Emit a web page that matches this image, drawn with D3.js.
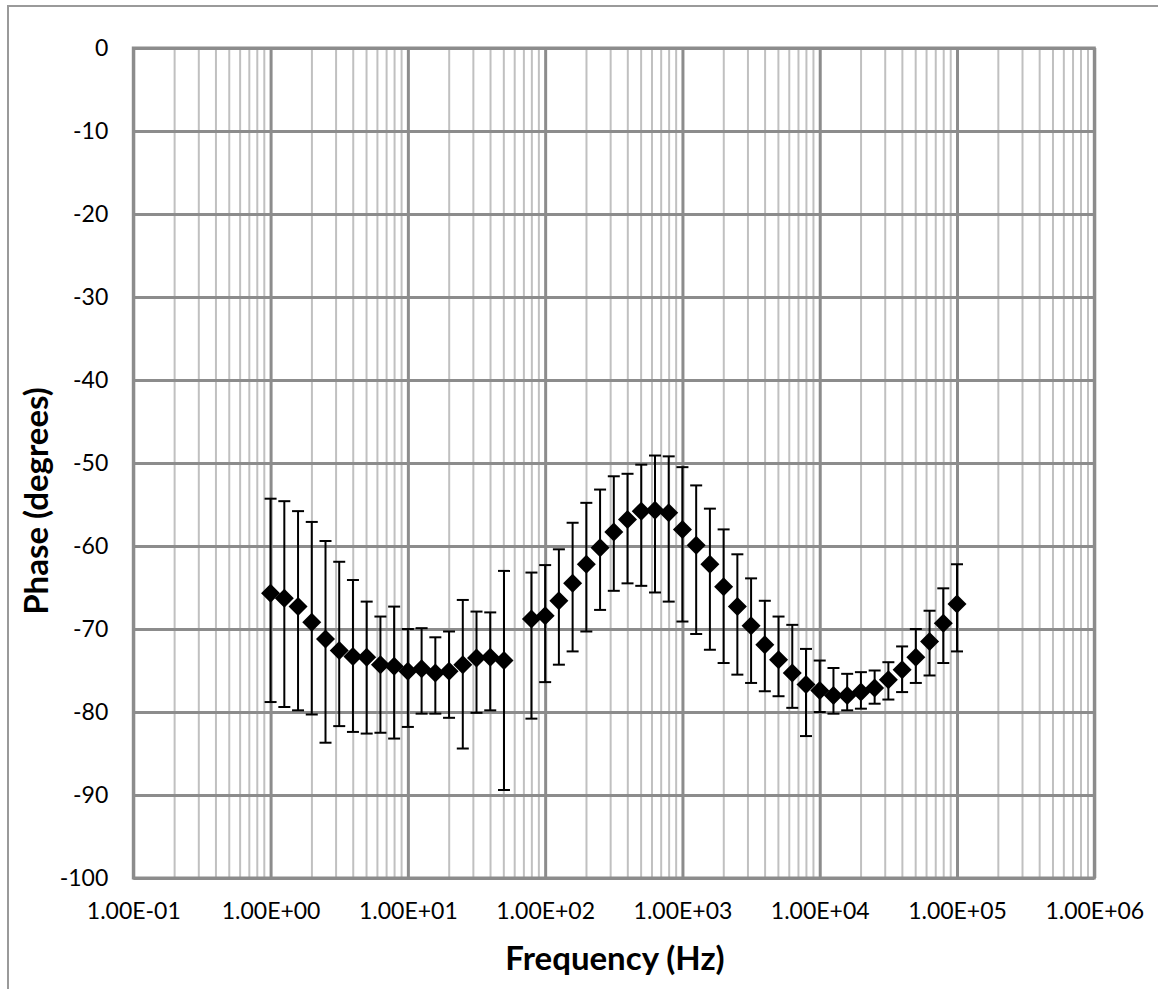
<!DOCTYPE html>
<html>
<head>
<meta charset="utf-8">
<script src="https://cdn.jsdelivr.net/npm/d3@7"></script>
<style>
  html, body { margin: 0; padding: 0; background: #fff; }
  svg { display: block; font-family: Lato, "Open Sans", sans-serif; }
</style>
</head>
<body>
<svg id="chart" width="1158" height="989"></svg>
<script>
// ---- data ----
const frequencies = [1, 1.259, 1.585, 1.995, 2.512, 3.162, 3.981, 5.012, 6.310, 7.943,
  10, 12.59, 15.85, 19.95, 25.12, 31.62, 39.81, 50.12,
  79.43, 100, 125.9, 158.5, 199.5, 251.2, 316.2, 398.1, 501.2, 631.0, 794.3,
  1000, 1259, 1585, 1995, 2512, 3162, 3981, 5012, 6310, 7943,
  10000, 12589, 15849, 19953, 25119, 31623, 39811, 50119, 63096, 79433, 100000];
const phase = [-65.7, -66.3, -67.3, -69.2, -71.2, -72.6, -73.3, -73.4, -74.3, -74.5,
  -75.1, -74.8, -75.3, -75.1, -74.3, -73.5, -73.4, -73.8,
  -68.8, -68.4, -66.6, -64.5, -62.2, -60.2, -58.3, -56.8, -55.8, -55.7, -56.0,
  -58.0, -59.9, -62.2, -64.9, -67.3, -69.6, -71.9, -73.7, -75.3, -76.7,
  -77.4, -78.0, -78.0, -77.6, -77.1, -76.1, -74.9, -73.4, -71.5, -69.3, -67.0];
const errorTop = [-54.3, -54.6, -55.8, -57.1, -59.4, -61.9, -64.1, -66.7, -68.5, -67.3,
  -70.0, -69.9, -71.0, -70.3, -66.5, -67.9, -68.0, -63.0,
  -63.2, -62.3, -60.4, -57.2, -54.8, -53.2, -51.6, -51.3, -50.2, -49.1, -49.2,
  -50.5, -52.7, -55.5, -58.0, -61.0, -63.9, -66.6, -68.5, -69.5, -72.4,
  -73.8, -74.7, -75.4, -75.2, -75.0, -74.0, -72.1, -70.0, -67.8, -65.1, -62.2];
const errorBottom = [-78.8, -79.4, -79.8, -80.3, -83.7, -81.7, -82.4, -82.6, -82.5, -83.2,
  -81.8, -80.2, -80.2, -80.7, -84.4, -80.1, -79.8, -89.4,
  -80.8, -76.4, -74.3, -72.7, -70.3, -67.7, -65.4, -64.5, -64.8, -65.6, -66.7,
  -69.1, -70.6, -72.5, -74.1, -75.5, -76.5, -77.5, -78.1, -79.5, -82.9,
  -80.0, -80.2, -79.8, -79.6, -79.0, -78.5, -77.6, -76.5, -75.6, -74.1, -72.7];
const xTicks = [1e-1, 1e0, 1e1, 1e2, 1e3, 1e4, 1e5, 1e6];
const xTickLabels = ["1.00E-01", "1.00E+00", "1.00E+01", "1.00E+02", "1.00E+03", "1.00E+04", "1.00E+05", "1.00E+06"];
const yTicks = [0, -10, -20, -30, -40, -50, -60, -70, -80, -90, -100];
const yTickLabels = ["0", "-10", "-20", "-30", "-40", "-50", "-60", "-70", "-80", "-90", "-100"];
const xTitle = "Frequency (Hz)";
const yTitle = "Phase (degrees)";

// ---- layout ----
const plotL = 133.3, plotR = 1094.3, plotT = 48, plotB = 878;
const svg = d3.select("#chart");

const x = d3.scaleLog().domain([1e-1, 1e6]).range([plotL, plotR]);
const y = d3.scaleLinear().domain([-100, 0]).range([plotB, plotT]);

// outer chart border
svg.append("rect").attr("x", 8).attr("y", 6).attr("width", 1170).attr("height", 1010)
  .attr("fill", "none").attr("stroke", "#9a9a9a").attr("stroke-width", 2);

// minor vertical gridlines
const minorVals = [];
for (let d = -1; d < 6; d++) for (let m = 2; m <= 9; m++) minorVals.push(m * Math.pow(10, d));
svg.append("g").selectAll("line").data(minorVals).join("line")
  .attr("x1", d => x(d)).attr("x2", d => x(d)).attr("y1", plotT).attr("y2", plotB)
  .attr("stroke", "#c0c0c0").attr("stroke-width", 2);

// major gridlines via axes
const gx = svg.append("g").attr("transform", `translate(0,${plotB})`)
  .call(d3.axisBottom(x).tickValues(xTicks).tickSize(-(plotB - plotT)).tickFormat((d, i) => xTickLabels[i]).tickPadding(25));
gx.select(".domain").remove();
gx.selectAll(".tick line").attr("stroke", "#8c8c8c").attr("stroke-width", 3);
gx.selectAll(".tick text").attr("font-size", 23).attr("fill", "#000").attr("font-family", "Lato, sans-serif");

const gy = svg.append("g").attr("transform", `translate(${plotL},0)`)
  .call(d3.axisLeft(y).tickValues(yTicks).tickSize(-(plotR - plotL)).tickFormat((d, i) => yTickLabels[i]).tickPadding(25));
gy.select(".domain").remove();
gy.selectAll(".tick line").attr("stroke", "#8c8c8c").attr("stroke-width", 3);
gy.selectAll(".tick text").attr("font-size", 23).attr("fill", "#000").attr("font-family", "Lato, sans-serif");

// plot frame
svg.append("rect").attr("x", plotL).attr("y", plotT).attr("width", plotR - plotL).attr("height", plotB - plotT)
  .attr("fill", "none").attr("stroke", "#8c8c8c").attr("stroke-width", 3);

// error bars
const eb = svg.append("g").attr("stroke", "#000").attr("stroke-width", 2);
frequencies.forEach((f, i) => {
  const cx = x(f);
  eb.append("line").attr("x1", cx).attr("x2", cx).attr("y1", y(errorTop[i])).attr("y2", y(errorBottom[i]));
  eb.append("line").attr("x1", cx - 6).attr("x2", cx + 6).attr("y1", y(errorTop[i])).attr("y2", y(errorTop[i]));
  eb.append("line").attr("x1", cx - 6).attr("x2", cx + 6).attr("y1", y(errorBottom[i])).attr("y2", y(errorBottom[i]));
});

// markers
svg.append("g").selectAll("path").data(frequencies).join("path")
  .attr("d", "M0,-9.5L9.5,0L0,9.5L-9.5,0Z")
  .attr("transform", (d, i) => `translate(${x(d)},${y(phase[i])})`)
  .attr("fill", "#000");

// titles
svg.append("text").attr("x", 615).attr("y", 970).attr("text-anchor", "middle")
  .attr("font-size", 33).attr("font-weight", "bold").attr("fill", "#000").text(xTitle);
svg.append("text").attr("transform", "translate(48,501) rotate(-90)").attr("text-anchor", "middle")
  .attr("font-size", 33).attr("font-weight", "bold").attr("fill", "#000").text(yTitle);
</script>
</body>
</html>
